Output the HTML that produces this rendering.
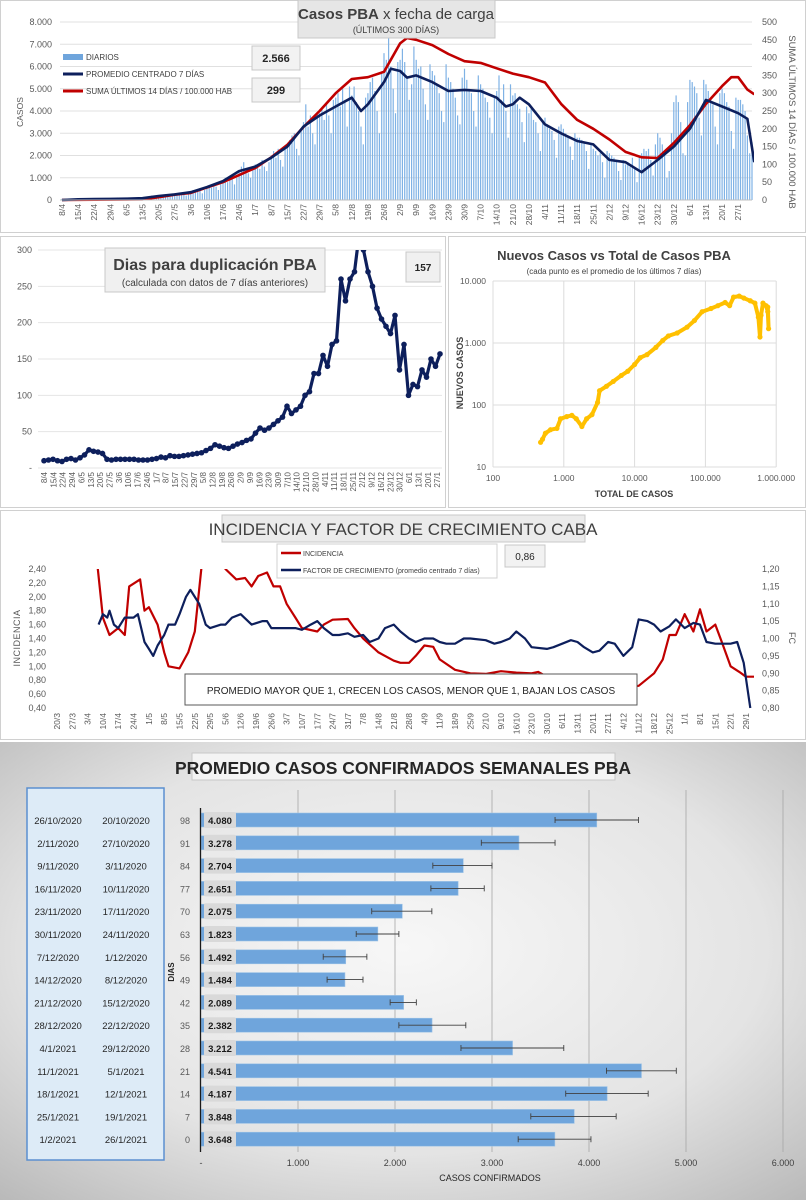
<!DOCTYPE html>
<html><head><meta charset="utf-8"><style>
html,body{margin:0;padding:0;background:#fff}
svg{display:block;font-family:"Liberation Sans Narrow","Liberation Sans",sans-serif}
</style></head><body>
<svg id="s" width="806" height="1200" viewBox="0 0 806 1200">
<defs>
<radialGradient id="bg5" cx="50%" cy="45%" r="75%"><stop offset="0" stop-color="#f7f7f7"/><stop offset="0.6" stop-color="#e4e4e4"/><stop offset="1" stop-color="#b8b8b8"/></radialGradient>
<clipPath id="cp1"><rect x="60" y="10" width="694" height="192"/></clipPath>
<clipPath id="cp2"><rect x="38" y="250" width="405" height="222"/></clipPath>
<clipPath id="cp4"><rect x="60" y="569" width="694" height="140"/></clipPath>
</defs>
<rect x="0" y="0" width="806" height="1200" fill="#fff"/>
<rect x="0.5" y="0.5" width="805" height="232" fill="#fff" stroke="#d0d0d0"/>
<rect x="0.5" y="236.5" width="445" height="271" fill="#fff" stroke="#d0d0d0"/>
<rect x="448.5" y="236.5" width="357" height="271" fill="#fff" stroke="#d0d0d0"/>
<rect x="0.5" y="510.5" width="805" height="229" fill="#fff" stroke="#d0d0d0"/>
<rect x="0" y="742" width="806" height="458" fill="url(#bg5)"/>
<g id="g1"></g><g id="g2"></g><g id="g3"></g><g id="g4"></g><g id="g5"></g>
</svg>
<script>
// ---------- Chart 1 data ----------
const c1DateLabels=["8/4","15/4","22/4","29/4","6/5","13/5","20/5","27/5","3/6","10/6","17/6","24/6","1/7","8/7","15/7","22/7","29/7","5/8","12/8","19/8","26/8","2/9","9/9","16/9","23/9","30/9","7/10","14/10","21/10","28/10","4/11","11/11","18/11","25/11","2/12","9/12","16/12","23/12","30/12","6/1","13/1","20/1","27/1"];
const c1LeftTicks=[0,1000,2000,3000,4000,5000,6000,7000,8000];
const c1LeftTickLabels=["0","1.000","2.000","3.000","4.000","5.000","6.000","7.000","8.000"];
const c1RightTicks=[0,50,100,150,200,250,300,350,400,450,500];
const c1Daily=[0.05,0.03,0.04,0.02,0.05,0.03,0.04, 0.04,0.03,0.05,0.04,0.02,0.03,0.05, 0.04,0.05,0.03,0.04,0.06,0.03,0.05, 0.05,0.06,0.04,0.05,0.06,0.04,0.05,
0.06,0.07,0.05,0.06,0.08,0.05,0.07, 0.1,0.12,0.08,0.15,0.2,0.15,0.2, 0.2,0.22,0.18,0.25,0.2,0.15,0.25, 0.3,0.28,0.25,0.32,0.3,0.2,0.3,
0.4,0.45,0.35,0.4,0.5,0.3,0.45, 0.6,0.65,0.55,0.7,0.6,0.45,0.7, 0.9,1.0,0.8,1.1,0.95,0.7,1.0, 1.3,1.5,1.7,1.4,1.2,1.0,1.5,
1.6,1.5,1.4,1.8,1.5,1.3,1.7, 2.0,2.2,1.9,2.3,1.8,1.5,2.4, 2.5,2.7,2.9,3.0,2.3,2.0,3.2, 3.5,4.3,3.3,3.8,3.0,2.5,3.9,
3.9,4.1,3.6,4.4,3.8,3.0,4.5, 4.6,4.8,4.2,5.0,4.5,3.3,5.1, 4.7,5.1,4.4,4.0,3.3,2.5,4.6, 4.8,5.3,5.5,4.9,4.0,3.0,5.7,
6.6,6.3,7.4,6.0,5.0,3.9,6.2, 6.3,6.8,6.2,5.5,4.5,5.2,6.9, 6.3,5.9,6.0,5.0,4.3,3.6,6.1, 5.8,5.6,5.2,4.8,4.0,3.5,6.1,
5.5,5.3,5.0,4.6,3.8,3.4,5.5, 5.9,5.4,5.0,4.8,4.0,3.3,5.6, 5.2,5.0,4.6,4.4,3.7,3.0,4.7, 4.9,5.6,4.5,5.2,4.0,2.8,5.2,
4.7,4.8,4.3,4.1,3.5,2.6,4.2, 3.9,4.1,3.6,3.5,3.0,2.2,3.6, 3.7,3.4,3.2,3.1,2.7,1.9,3.3, 3.4,3.2,3.0,2.9,2.4,1.8,3.0,
2.8,2.8,2.7,2.6,2.2,1.4,2.5, 2.3,2.2,2.0,2.1,1.7,1.0,2.2, 2.1,2.0,1.9,1.8,1.3,0.9,1.8, 1.6,1.7,1.5,1.9,1.4,0.8,2.0,
2.1,2.3,2.2,2.3,1.8,1.1,2.5, 3.0,2.8,2.5,2.2,1.0,1.3,3.0, 4.4,4.7,4.4,3.5,2.1,2.0,4.4, 5.4,5.3,5.1,4.8,3.7,2.9,5.4,
5.2,4.9,4.5,4.3,3.3,2.5,4.8, 5.0,4.8,4.4,4.2,3.1,2.3,4.6, 4.5,4.5,4.3,4.0,2.9,2.1,2.6];
const c1AvgDays=[0,7,14,21,28,35,42,49,56,63,70,77,84,91,98,105,112,119,126,130,133,140,143,147,150,154,161,168,175,182,189,193,196,199,203,210,217,224,231,238,245,252,259,266,273,280,287,294,298,301];
const c1AvgVals=[0,30,40,50,60,80,180,250,350,580,850,1300,1500,1900,2400,3300,3800,4200,4600,4000,4300,5300,5900,5800,5500,5600,5300,4900,4950,4900,4600,4200,4300,4600,4300,3400,3000,2650,2500,1800,1700,1250,1800,2400,3200,4500,4200,3900,3650,1700];
const c1SumDays=[0,35,42,49,56,63,70,77,84,91,98,105,112,119,126,133,140,147,150,154,161,168,175,182,189,196,203,210,217,224,231,238,245,252,259,266,273,280,287,291,294,298,301];
const c1SumVals=[0,2,8,15,20,35,50,70,90,120,155,205,250,300,340,345,360,440,455,450,435,410,390,385,370,355,345,330,270,225,200,170,135,120,118,160,210,270,320,345,345,310,297];

// ---------- Chart 2 data ----------
const c2Ticks=[0,50,100,150,200,250,300];
const c2TickLabels=["-","50","100","150","200","250","300"];
const c2Vals=[10,11,12,10,9,12,13,11,14,18,25,23,22,20,12,11,12,12,12,12,12,11,11,11,12,13,15,14,17,16,16,17,18,19,20,21,24,27,32,30,28,27,30,33,35,38,40,48,55,52,55,60,65,70,85,75,80,85,100,105,130,130,155,140,170,175,260,230,260,270,320,300,270,250,220,205,195,185,210,135,170,100,115,112,135,125,150,140,157];

// ---------- Chart 3 data ----------
const c3Total=[470,500,550,650,800,900,1100,1300,1500,1800,2100,2500,3000,3200,4000,5000,6500,8000,10000,12000,15000,20000,25000,30000,40000,55000,70000,90000,120000,150000,190000,220000,250000,300000,350000,430000,500000,560000,590000,610000,650000,720000,760000,780000,760000];
const c3New=[25,28,35,40,42,60,65,68,60,45,60,70,110,170,200,240,300,350,450,580,650,850,1100,1300,1450,1800,2300,3200,3600,4000,4500,4000,5500,5700,5300,4800,4400,2600,1250,2800,4400,4000,3200,1700,3800];
const c3XTicks=[100,1000,10000,100000,1000000];
const c3XTickLabels=["100","1.000","10.000","100.000","1.000.000"];
const c3YTicks=[10,100,1000,10000];
const c3YTickLabels=["10","100","1.000","10.000"];

// ---------- Chart 4 data ----------
const c4DateLabels=["20/3","27/3","3/4","10/4","17/4","24/4","1/5","8/5","15/5","22/5","29/5","5/6","12/6","19/6","26/6","3/7","10/7","17/7","24/7","31/7","7/8","14/8","21/8","28/8","4/9","11/9","18/9","25/9","2/10","9/10","16/10","23/10","30/10","6/11","13/11","20/11","27/11","4/12","11/12","18/12","25/12","1/1","8/1","15/1","22/1","29/1"];
const c4LeftTicks=[0.4,0.6,0.8,1.0,1.2,1.4,1.6,1.8,2.0,2.2,2.4];
const c4RightTicks=[0.80,0.85,0.90,0.95,1.00,1.05,1.10,1.15,1.20];
const c4IncDays=[17,21,24,28,31,33,38,40,42,46,49,51,56,60,63,66,70,75,77,82,86,89,92,96,99,102,105,109,112,119,122,126,133,136,140,147,154,157,161,164,168,172,175,182,189,196,203,210,217,220,224,231,238,245,252,259,266,273,277,280,283,287,291,294,297,301,304,308,312,315,319];
const c4IncVals=[2.9,1.7,1.45,1.55,1.45,2.15,2.25,1.8,1.85,1.6,1.2,1.0,0.97,1.2,1.5,2.4,3.2,3.0,2.4,2.25,2.27,2.15,2.3,2.35,2.15,2.15,1.9,1.7,1.55,1.5,1.6,1.67,1.68,1.55,1.4,1.2,1.08,1.05,1.05,1.15,1.3,1.28,1.1,0.95,0.9,0.89,0.93,0.91,0.9,0.92,0.85,0.75,0.7,0.78,0.74,0.7,0.72,0.9,1.1,1.45,1.45,1.75,1.5,1.82,1.5,1.6,1.35,1.0,0.92,0.85,0.85];
const c4FcDays=[19,21,23,24,26,28,31,35,37,40,42,44,46,49,51,54,56,59,61,65,68,70,75,77,80,84,89,94,96,98,105,109,112,116,119,122,126,129,133,136,140,143,147,150,154,157,161,164,168,172,175,178,182,186,189,196,200,203,207,210,214,217,224,227,231,235,238,241,245,248,252,255,259,263,266,270,273,276,280,283,287,291,294,297,301,304,308,311,314,317];
const c4FcVals=[1.04,1.07,1.06,1.08,1.04,1.03,1.06,1.06,1.07,0.99,0.97,0.95,0.98,1.01,1.04,1.04,1.07,1.12,1.14,1.10,1.04,1.03,1.04,1.04,1.06,1.07,1.04,1.05,1.05,1.03,1.03,1.03,1.025,1.04,1.05,1.03,1.01,1.01,1.015,1.005,1.01,0.99,1.0,1.03,1.04,1.02,1.0,0.99,1.0,1.0,0.99,0.985,0.985,1.0,1.0,0.995,0.985,0.99,1.0,1.02,1.0,0.975,0.97,0.975,0.985,0.995,0.99,0.975,0.96,0.965,0.99,0.985,0.95,0.975,1.055,1.05,1.04,1.02,1.035,1.055,1.03,1.045,1.04,0.99,0.985,0.985,0.985,0.99,0.93,0.80];

// ---------- Chart 5 data ----------
const c5From=["26/10/2020","2/11/2020","9/11/2020","16/11/2020","23/11/2020","30/11/2020","7/12/2020","14/12/2020","21/12/2020","28/12/2020","4/1/2021","11/1/2021","18/1/2021","25/1/2021","1/2/2021"];
const c5To=["20/10/2020","27/10/2020","3/11/2020","10/11/2020","17/11/2020","24/11/2020","1/12/2020","8/12/2020","15/12/2020","22/12/2020","29/12/2020","5/1/2021","12/1/2021","19/1/2021","26/1/2021"];
const c5Days=[98,91,84,77,70,63,56,49,42,35,28,21,14,7,0];
const c5Vals=[4080,3278,2704,2651,2075,1823,1492,1484,2089,2382,3212,4541,4187,3848,3648];
const c5ErrLo=[3650,2890,2390,2370,1760,1600,1260,1300,1950,2040,2680,4180,3760,3400,3270];
const c5ErrHi=[4510,3650,3000,2920,2380,2040,1710,1670,2220,2730,3740,4900,4610,4280,4020];
const c5Ticks=[0,1000,2000,3000,4000,5000,6000];
const c5TickLabels=["-","1.000","2.000","3.000","4.000","5.000","6.000"];

const NS='http://www.w3.org/2000/svg';
function mk(tag,attrs,parent){const e=document.createElementNS(NS,tag);for(const k in attrs)e.setAttribute(k,attrs[k]);parent.appendChild(e);return e;}
function txt(parent,x,y,s,size,fill,anchor,extra){const t=mk('text',Object.assign({x:x,y:y,'font-size':size,fill:fill,'text-anchor':anchor||'start'},extra||{}),parent);t.textContent=s;return t;}
function fmt(n){return n.toString().replace(/\B(?=(\d{3})+(?!\d))/g,'.');}
function pts(xs,ys){return xs.map((x,i)=>x.toFixed(1)+','+ys[i].toFixed(1)).join(' ');}

// ===== Chart 1 =====
(function(){
const g=document.getElementById('g1');
const X=d=>62+d*2.3, YL=v=>200-v/8000*178, YR=v=>200-v/500*178;
c1LeftTicks.forEach((v,i)=>{
  const l=mk('line',{x1:60,x2:752,y1:YL(v),y2:YL(v),stroke:'#e0e0e0','stroke-width':1},g);
  
  
  const t=txt(g,52,YL(v)+3,c1LeftTickLabels[i],9,'#595959','end');
  
  
});
c1RightTicks.forEach(v=>{
  const t=txt(g,762,YR(v)+3,String(v),9,'#595959','start');
  
  
});
c1DateLabels.forEach((s,i)=>{
  const x=X(i*7);
  const t=txt(g,0,0,s,8.5,'#595959','end',{transform:'translate('+(x+3)+',204) rotate(-90)'});
  
  
});
const cg=mk('g',{'clip-path':'url(#cp1)'},g);
c1Daily.forEach((v,i)=>{
  const y=YL(v*1000);
  const r=mk('rect',{x:X(i)-0.6,y:y,width:1.2,height:200-y,fill:'#7fb2e5'},cg);
  
  
});
const ps=mk('polyline',{points:pts(c1SumDays.map(X),c1SumVals.map(YR)),fill:'none',stroke:'#c00000','stroke-width':2.6,'stroke-linejoin':'round'},cg);


const pa=mk('polyline',{points:pts(c1AvgDays.map(X),c1AvgVals.map(YL)),fill:'none',stroke:'#0d1f5c','stroke-width':2.6,'stroke-linejoin':'round'},cg);


const ax=mk('line',{x1:60,x2:752,y1:200,y2:200,stroke:'#bfbfbf'},g);


const yt=txt(g,0,0,'CASOS',8.5,'#595959','middle',{transform:'translate(23,112) rotate(-90)'});


const rt=txt(g,0,0,'SUMA ÚLTIMOS 14 DÍAS / 100.000 HAB',9.5,'#595959','middle',{transform:'translate(789,122) rotate(90)'});


const tb=mk('rect',{x:298,y:0,width:197,height:38,fill:'#e6e6e6',stroke:'#c8c8c8'},g);


const tt=mk('text',{x:396,y:19,'font-size':15,fill:'#404040','text-anchor':'middle'},g);


const b1=mk('tspan',{'font-weight':'bold'},tt);b1.textContent='Casos PBA';
const b2=mk('tspan',{},tt);b2.textContent=' x fecha de carga';
const st=txt(g,396,33,'(ÚLTIMOS 300 DÍAS)',9,'#404040','middle');


const l1=mk('rect',{x:63,y:54,width:20,height:6,fill:'#6fa5dc'},g);


const lt1=txt(g,86,60,'DIARIOS',8,'#404040');


const l2=mk('line',{x1:63,x2:83,y1:74,y2:74,stroke:'#0d1f5c','stroke-width':3},g);


const lt2=txt(g,86,77,'PROMEDIO CENTRADO 7 DÍAS',8,'#404040');


const l3=mk('line',{x1:63,x2:83,y1:91,y2:91,stroke:'#c00000','stroke-width':3},g);


const lt3=txt(g,86,94,'SUMA ÚLTIMOS 14 DÍAS / 100.000 HAB',8,'#404040');


const v1=mk('rect',{x:252,y:46,width:48,height:24,fill:'#f2f2f2',stroke:'#c8c8c8'},g);


const vt1=txt(g,276,62,'2.566',11,'#262626','middle',{'font-weight':'bold'});


const v2=mk('rect',{x:252,y:78,width:48,height:24,fill:'#f2f2f2',stroke:'#c8c8c8'},g);


const vt2=txt(g,276,94,'299',11,'#262626','middle',{'font-weight':'bold'});


})();

// ===== Chart 2 =====
(function(){
const g=document.getElementById('g2');
const Y=v=>468-v/300*218;
const n=c2Vals.length;
const X=i=>44+i/(n-1)*396;
c2Ticks.forEach((v,i)=>{
  const l=mk('line',{x1:38,x2:442,y1:Y(v),y2:Y(v),stroke:'#e4e4e4'},g);
  
  
  const t=txt(g,32,Y(v)+3,c2TickLabels[i],9,'#595959','end');
  
  
});
c1DateLabels.forEach((s,i)=>{
  const x=44+i*9.36;
  const t=txt(g,0,0,s,8,'#595959','end',{transform:'translate('+(x+3)+',472) rotate(-90)'});
  
  
});
const cg=mk('g',{'clip-path':'url(#cp2)'},g);
const xs=c2Vals.map((v,i)=>X(i)), ys=c2Vals.map(Y);
const pl=mk('polyline',{points:pts(xs,ys),fill:'none',stroke:'#0d1f5c','stroke-width':3.2,'stroke-linejoin':'round'},cg);


c2Vals.forEach((v,i)=>{
  const c=mk('circle',{cx:xs[i],cy:ys[i],r:2.8,fill:'#0d1f5c'},cg);
  
  
});
const tb=mk('rect',{x:105,y:248,width:220,height:44,fill:'#f0f0f0',stroke:'#c8c8c8'},g);


const t1=txt(g,215,270,'Dias para duplicación PBA',16,'#404040','middle',{'font-weight':'bold'});


const t2=txt(g,215,286,'(calculada con datos de 7 días anteriores)',10,'#404040','middle');


const vb=mk('rect',{x:406,y:252,width:34,height:30,fill:'#f0f0f0',stroke:'#c8c8c8'},g);


const vt=txt(g,423,271,'157',10,'#262626','middle',{'font-weight':'bold'});


})();

// ===== Chart 3 =====
(function(){
const g=document.getElementById('g3');
const X=v=>493+(Math.log10(v)-2)*70.8, Y=v=>467-(Math.log10(v)-1)*62;
c3XTicks.forEach((v,i)=>{
  const l=mk('line',{x1:X(v),x2:X(v),y1:Y(10000),y2:Y(10),stroke:'#dcdcdc'},g);
  
  
  const t=txt(g,X(v),481,c3XTickLabels[i],8.5,'#595959','middle');
  
  
});
c3YTicks.forEach((v,i)=>{
  const l=mk('line',{x1:X(100),x2:X(1000000),y1:Y(v),y2:Y(v),stroke:'#dcdcdc'},g);
  
  
  const t=txt(g,486,Y(v)+3,c3YTickLabels[i],8.5,'#595959','end');
  
  
});
const xs=c3Total.map(X), ys=c3New.map(Y);
const pl=mk('polyline',{points:pts(xs,ys),fill:'none',stroke:'#ffc000','stroke-width':4,'stroke-linejoin':'round','stroke-linecap':'round'},g);


c3Total.forEach((v,i)=>{
  const c=mk('circle',{cx:xs[i],cy:ys[i],r:2.6,fill:'#ffc000'},g);
  
  
});
const t1=txt(g,614,260,'Nuevos Casos vs Total de Casos PBA',13,'#404040','middle',{'font-weight':'bold'});


const t2=txt(g,614,274,'(cada punto es el promedio de los últimos 7 días)',8,'#404040','middle');


const yt=txt(g,0,0,'NUEVOS CASOS',9,'#404040','middle',{transform:'translate(463,373) rotate(-90)','font-weight':'bold'});


const xt=txt(g,634,497,'TOTAL DE CASOS',9,'#404040','middle',{'font-weight':'bold'});


})();

// ===== Chart 4 =====
(function(){
const g=document.getElementById('g4');
const X=d=>57+d*2.187, YL=v=>708-(v-0.4)/2*139, YR=v=>708-(v-0.8)/0.4*139;
c4LeftTicks.forEach(v=>{
  const t=txt(g,46,YL(v)+3,v.toFixed(2).replace('.',','),9,'#595959','end');
  
  
});
c4RightTicks.forEach(v=>{
  const t=txt(g,762,YR(v)+3,v.toFixed(2).replace('.',','),9,'#595959','start');
  
  
});
c4DateLabels.forEach((s,i)=>{
  const x=X(i*7);
  const t=txt(g,0,0,s,8.5,'#595959','end',{transform:'translate('+(x+3)+',713) rotate(-90)'});
  
  
});
const cg=mk('g',{'clip-path':'url(#cp4)'},g);
const pi=mk('polyline',{points:pts(c4IncDays.map(X),c4IncVals.map(YL)),fill:'none',stroke:'#c00000','stroke-width':2.2,'stroke-linejoin':'round'},cg);


const pf=mk('polyline',{points:pts(c4FcDays.map(X),c4FcVals.map(YR)),fill:'none',stroke:'#0d1f5c','stroke-width':2.2,'stroke-linejoin':'round'},cg);


const yt=txt(g,0,0,'INCIDENCIA',9,'#595959','middle',{transform:'translate(20,638) rotate(-90)','letter-spacing':'0.5'});


const rt=txt(g,0,0,'FC',9,'#595959','middle',{transform:'translate(789,638) rotate(90)'});


const tb=mk('rect',{x:222,y:515,width:363,height:27,fill:'#ebebeb',stroke:'#c8c8c8'},g);


const t1=txt(g,403,535,'INCIDENCIA Y FACTOR DE CRECIMIENTO CABA',17,'#404040','middle');


const lb=mk('rect',{x:277,y:544,width:220,height:34,fill:'#fff',stroke:'#d0d0d0'},g);


const ll1=mk('line',{x1:281,x2:301,y1:553,y2:553,stroke:'#c00000','stroke-width':2.5},g);


const lt1=txt(g,303,556,'INCIDENCIA',7,'#404040');


const ll2=mk('line',{x1:281,x2:301,y1:570,y2:570,stroke:'#0d1f5c','stroke-width':2.5},g);


const lt2=txt(g,303,573,'FACTOR DE CRECIMIENTO (promedio centrado 7 días)',7,'#404040');


const vb=mk('rect',{x:505,y:545,width:40,height:22,fill:'#f2f2f2',stroke:'#c8c8c8'},g);


const vt=txt(g,525,560,'0,86',10,'#262626','middle');


const ab=mk('rect',{x:185,y:674,width:452,height:31,fill:'#fff',stroke:'#595959'},g);


const at=txt(g,411,694,'PROMEDIO MAYOR QUE 1, CRECEN LOS CASOS, MENOR QUE 1, BAJAN LOS CASOS',10,'#262626','middle');


})();

// ===== Chart 5 =====
(function(){
const g=document.getElementById('g5');
const X=v=>201+v/1000*97, Y=i=>820+i*22.8;
const tb=mk('rect',{x:192,y:753,width:423,height:27,fill:'#f4f4f4',stroke:'#c8c8c8'},g);


const t1=txt(g,403,774,'PROMEDIO CASOS CONFIRMADOS SEMANALES PBA',17.5,'#262626','middle',{'font-weight':'bold'});


const tab=mk('rect',{x:27,y:788,width:137,height:372,fill:'#ddebf7',stroke:'#5b8fd0','stroke-width':1.5},g);


c5Ticks.forEach((v,i)=>{
  if(v>0){
    const l=mk('line',{x1:X(v),x2:X(v),y1:790,y2:1152,stroke:'#a6a6a6','stroke-width':0.8},g);
    
    
  }
  const t=txt(g,X(v),1166,c5TickLabels[i],9,'#404040','middle');
  
  
});
c5Vals.forEach((v,i)=>{
  const y=Y(i);
  const f=txt(g,58,y+4,c5From[i],9.5,'#262626','middle');
  
  
  const to=txt(g,126,y+4,c5To[i],9.5,'#262626','middle');
  
  
  const d=txt(g,190,y+4,String(c5Days[i]),9,'#595959','end');
  
  
  const b=mk('rect',{x:X(0),y:y-7,width:X(v)-X(0),height:14,fill:'#6fa5dc',stroke:'#9dc3e6','stroke-width':0.6},g);
  
  
  const e=mk('path',{d:'M'+X(c5ErrLo[i])+','+y+'H'+X(c5ErrHi[i])+'M'+X(c5ErrLo[i])+','+(y-3)+'v6M'+X(c5ErrHi[i])+','+(y-3)+'v6',stroke:'#404040','stroke-width':0.9,fill:'none'},g);
  
  
  const lb=mk('rect',{x:204,y:y-8,width:32,height:16,rx:2,fill:'#d9d9d9'},g);
  
  
  const vt=txt(g,220,y+4,fmt(v),9.5,'#1a1a1a','middle',{'font-weight':'bold'});
  
  
});
const ax=mk('line',{x1:200.5,x2:200.5,y1:808,y2:1152,stroke:'#1a1a1a','stroke-width':1.3},g);


const yt=txt(g,0,0,'DIAS',8,'#262626','middle',{transform:'translate(174,972) rotate(-90)','font-weight':'bold'});


const xt=txt(g,490,1181,'CASOS CONFIRMADOS',9,'#262626','middle');


})();
</script>
</body></html>
